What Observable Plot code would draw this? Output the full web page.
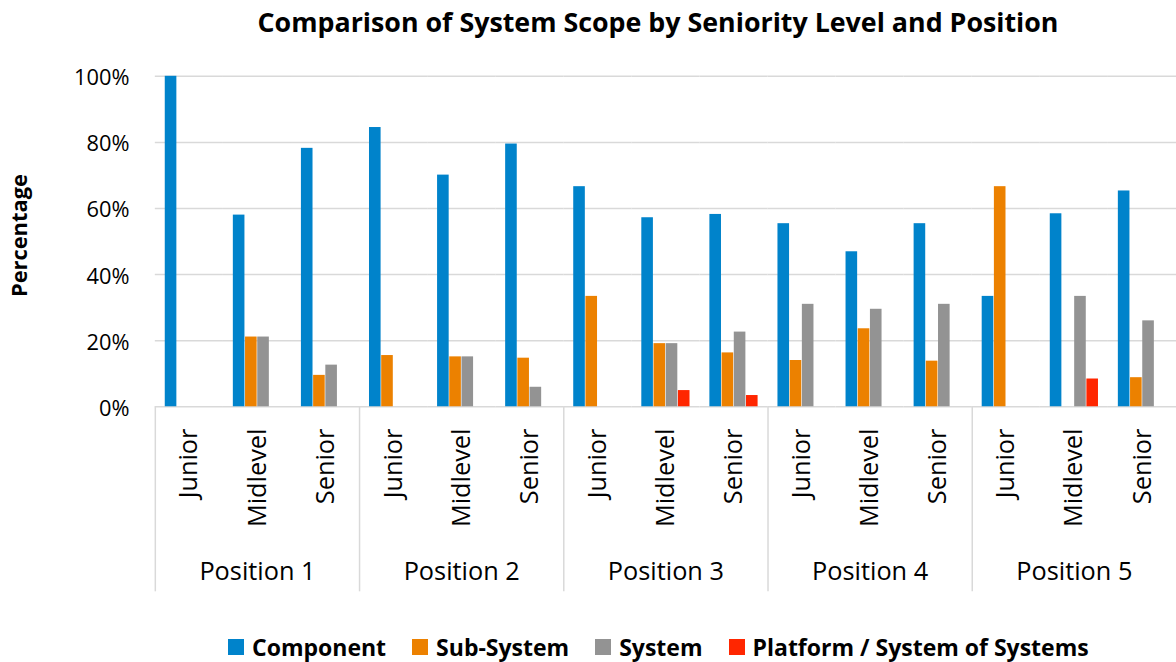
<!DOCTYPE html>
<html>
<head>
<meta charset="utf-8">
<script src="https://cdn.jsdelivr.net/npm/d3@7"></script>
<script src="https://cdn.jsdelivr.net/npm/@observablehq/plot@0.6"></script>
<style>
  html, body { margin: 0; padding: 0; overflow: hidden; background: #fff; }
  body { width: 1176px; height: 662px; font-family: "Open Sans", sans-serif; color: #000; }
  #title { width: 1176px; height: 50px; box-sizing: border-box; padding-left: 140px; text-align: center;
           font-weight: bold; font-size: 26.8px; line-height: 44px; white-space: nowrap; }
  #chart { width: 1176px; height: 550px; overflow: hidden; }
  #chart svg { display: block; }
  #legend { display: flex; align-items: center; padding-left: 228px; padding-top: 32px; height: 30px; }
  .item { display: flex; align-items: center; margin-right: 26px; font-weight: bold; font-size: 23px; white-space: nowrap; }
  .sw { width: 16px; height: 16px; margin-right: 8px; display: inline-block; }
</style>
</head>
<body>
<div id="title">Comparison of System Scope by Seniority Level and Position</div>
<div id="chart"></div>
<div id="legend"></div>
<script>
// ---- data ----
const positions = ["Position 1", "Position 2", "Position 3", "Position 4", "Position 5"];
const seniorities = ["Junior", "Midlevel", "Senior"];
const seriesNames = ["Component", "Sub-System", "System", "Platform / System of Systems"];
const seriesColors = ["#0083CB", "#EC8100", "#939393", "#FF2600"];
// percentages, ordered Position 1 (Junior, Midlevel, Senior), Position 2 (...), ...
const componentPct = [100, 58.0, 78.2, 84.5, 70.1, 79.5, 66.6, 57.2, 58.2, 55.4, 46.9, 55.4, 33.4, 58.4, 65.3];
const subSystemPct = [0, 21.1, 9.5, 15.5, 15.1, 14.7, 33.4, 19.1, 16.3, 14.0, 23.6, 13.8, 66.6, 0, 8.8];
const systemPct    = [0, 21.1, 12.6, 0, 15.1, 5.9, 0, 19.1, 22.6, 31.0, 29.5, 31.0, 0, 33.4, 26.0];
const platformPct  = [0, 0, 0, 0, 0, 0, 0, 4.9, 3.4, 0, 0, 0, 0, 8.4, 0];
const yTicks = [0, 0.2, 0.4, 0.6, 0.8, 1.0];
const yLabel = "Percentage";

// ---- build table ----
const seriesValues = [componentPct, subSystemPct, systemPct, platformPct];
const keys = positions.flatMap(p => seniorities.map(s => p + "|" + s));
const rows = [];
keys.forEach((key, i) => {
  seriesNames.forEach((name, s) => {
    const v = seriesValues[s][i];
    if (v > 0) rows.push({key, series: name, value: v / 100});
  });
});
const juniorKeys = keys.filter(k => k.endsWith("|" + seniorities[0]));
const midKeys = keys.filter(k => k.endsWith("|" + seniorities[1]));

// ---- layout ----
const W = 1185, H = 550, ML = 156, MR = 0, MT = 26, MB = 191;
const xPadOuter = 0.79;
const slotW = (W - ML - MR) / keys.length;
const barStep = slotW / (seriesNames.length + 2 * xPadOuter);
const dividerDx = -(xPadOuter * barStep + barStep / 2);
const gridColor = "#d9d9d9";

const chart = Plot.plot({
  width: W, height: H,
  marginLeft: ML, marginRight: MR, marginTop: MT, marginBottom: MB,
  style: {fontFamily: "'Open Sans', sans-serif", color: "#000", background: "transparent", overflow: "visible"},
  fx: {domain: keys, padding: 0, round: false, axis: null},
  x: {domain: seriesNames, paddingInner: 0, paddingOuter: xPadOuter, round: false, axis: null},
  y: {domain: [0, 1], axis: null},
  color: {domain: seriesNames, range: seriesColors},
  marks: [
    Plot.ruleY(yTicks, {stroke: gridColor, strokeWidth: 1.5}),
    Plot.barY(rows, {fx: "key", x: "series", y: "value", fill: "series", insetLeft: 0.3, insetRight: 0.3}),
    Plot.ruleX(juniorKeys, {fx: d => d, x: () => seriesNames[0], y1: 0, y2: -0.56, dx: dividerDx, stroke: gridColor, strokeWidth: 1.5}),
    Plot.text(midKeys, {fx: d => d, text: d => d.split("|")[0], frameAnchor: "bottom", dy: 175, fontSize: 25.5, fill: "#000"}),
    Plot.axisFx({anchor: "bottom", tickRotate: -90, tickSize: 0, tickPadding: 22, fontSize: 25.5,
                 tickFormat: k => k.split("|")[1], label: null}),
    Plot.axisY({ticks: yTicks, tickFormat: d3.format(".0%"), tickSize: 0, tickPadding: 26, fontSize: 22, dy: 2, label: null}),
    Plot.text([yLabel], {fx: () => keys[0], text: d => d, frameAnchor: "left", textAnchor: "middle", rotate: -90, dx: -136, dy: -6,
                         fontWeight: "bold", fontSize: 22, fill: "#000"})
  ]
});
document.getElementById("chart").appendChild(chart);

// ---- legend ----
const legend = document.getElementById("legend");
seriesNames.forEach((name, i) => {
  const item = document.createElement("div");
  item.className = "item";
  const sw = document.createElement("span");
  sw.className = "sw";
  sw.style.background = seriesColors[i];
  item.appendChild(sw);
  item.appendChild(document.createTextNode(name));
  legend.appendChild(item);
});
</script>
</body>
</html>
